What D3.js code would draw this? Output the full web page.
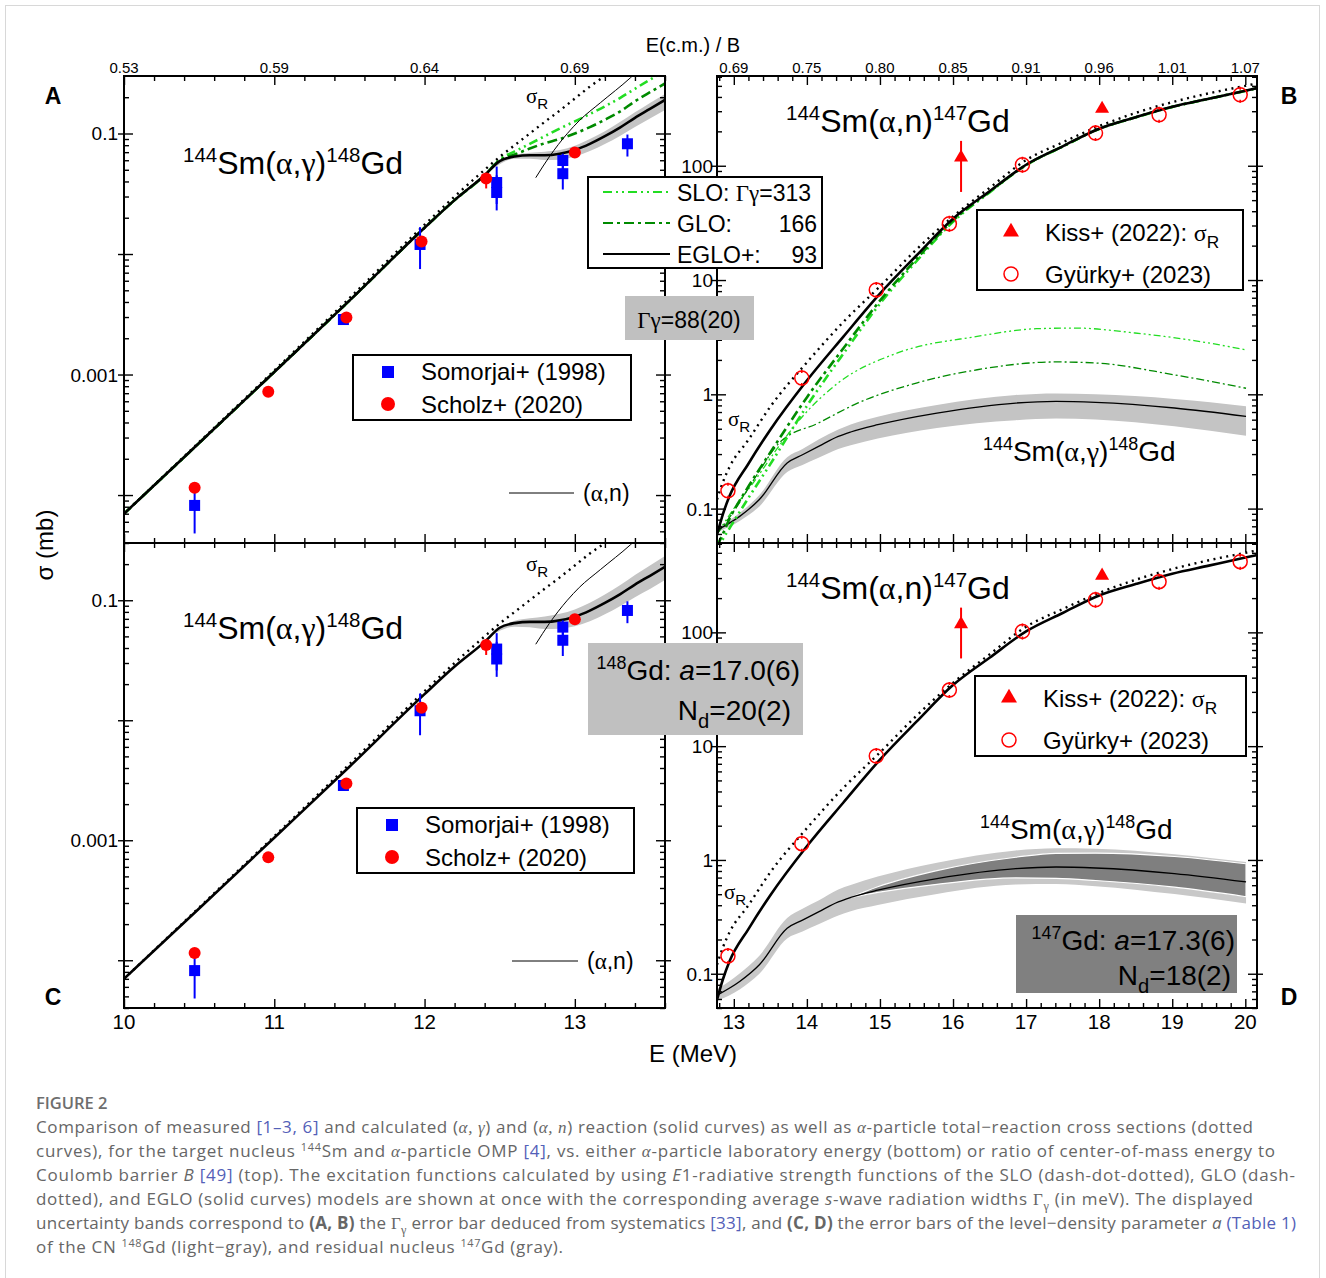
<!DOCTYPE html>
<html>
<head>
<meta charset="utf-8">
<script src="https://cdn.jsdelivr.net/npm/d3@7"></script>
<style>
  body { margin: 0; background: #fff; }
</style>
</head>
<body>
<svg id="fig" width="1326" height="1278" font-family='"Liberation Sans", Arial, sans-serif'></svg>
<script>
// ---------- data ----------
// (alpha,gamma) excitation functions, lab energy (panels A, C)
var eGam = [10.0, 10.5, 11.0, 11.5, 12.0, 12.2, 12.4, 12.5, 12.6, 12.7, 12.8, 12.9, 13.0, 13.1, 13.2, 13.3, 13.4, 13.5, 13.6];
var gamEGLO = [7.0e-5, 2.7e-4, 1.05e-3, 4.1e-3, 0.0165, 0.028, 0.045, 0.059, 0.0645, 0.066, 0.066, 0.068, 0.073, 0.082, 0.095, 0.112, 0.135, 0.16, 0.19];
var gamSLO = [7.0e-5, 2.7e-4, 1.05e-3, 4.1e-3, 0.0165, 0.028, 0.045, 0.061, 0.071, 0.082, 0.095, 0.110, 0.126, 0.145, 0.168, 0.197, 0.235, 0.28, 0.33];
var gamGLO = [7.0e-5, 2.7e-4, 1.05e-3, 4.1e-3, 0.0165, 0.028, 0.045, 0.060, 0.067, 0.075, 0.083, 0.090, 0.100, 0.113, 0.130, 0.152, 0.185, 0.22, 0.26];
var sigRLow = [7.0e-5, 2.75e-4, 1.08e-3, 4.3e-3, 0.0175, 0.030, 0.050, 0.064, 0.080, 0.10, 0.125, 0.155, 0.195, 0.245, 0.30, 0.37, 0.45, 0.55, 0.66];

// uncertainty bands above 12.4 MeV
var eBand = [12.4, 12.5, 12.6, 12.7, 12.8, 12.9, 13.0, 13.1, 13.2, 13.3, 13.4, 13.5, 13.6];
var bandAhi = [0.045, 0.0577, 0.0660, 0.0691, 0.0707, 0.0729, 0.0790, 0.0899, 0.1042, 0.1243, 0.1498, 0.1795, 0.2132];
var bandAlo = [0.045, 0.0557, 0.0616, 0.0616, 0.0602, 0.0606, 0.0644, 0.0715, 0.0817, 0.0955, 0.1134, 0.1330, 0.1566];
var bandChi = [0.045, 0.0583, 0.0675, 0.0708, 0.0732, 0.0772, 0.0838, 0.0952, 0.1116, 0.1332, 0.1623, 0.1946, 0.2337];
var bandClo = [0.045, 0.0557, 0.0602, 0.0595, 0.0575, 0.0579, 0.0607, 0.0667, 0.0763, 0.0890, 0.1060, 0.1242, 0.1475];

// (alpha,n) piece drawn in panels A, C
var eAnLow = [12.74, 12.83, 12.95, 13.03, 13.17, 13.37, 13.45];
var anLow = [0.043, 0.064, 0.10, 0.128, 0.18, 0.29, 0.36];

// measured (alpha,gamma)
var somE = [10.47, 11.46, 11.97, 12.48, 12.48, 12.92, 12.92, 13.35];
var somS = [8.2e-5, 2.86e-3, 0.0120, 0.0392, 0.0324, 0.0597, 0.0464, 0.0822];
var somLo = [4.8e-5, 2.7e-3, 7.5e-3, 0.026, 0.023, 0.048, 0.0343, 0.0644];
var somHi = [1.15e-4, 3.0e-3, 0.0167, 0.0532, 0.045, 0.068, 0.058, 0.098];
var schE = [10.47, 10.96, 11.48, 11.98, 12.41, 13.0];
var schS = [1.15e-4, 7.2e-4, 2.97e-3, 0.0127, 0.0424, 0.0695];
var schLo = [1.1e-4, 6.9e-4, 2.85e-3, 0.0122, 0.035, 0.067];
var schHi = [1.2e-4, 7.5e-4, 3.1e-3, 0.0132, 0.046, 0.072];

// (alpha,n) and sigma_R, panels B, D
var eN = [12.77, 12.85, 12.94, 13.2, 13.5, 14.0, 14.5, 15.0, 15.5, 16.0, 16.5, 17.0, 17.5, 18.0, 18.5, 19.0, 19.5, 20.0, 20.16];
var nEGLO = [0.059, 0.089, 0.128, 0.247, 0.49, 1.32, 3.2, 7.6, 16.4, 34.4, 59.8, 102, 148, 211, 266, 328, 386, 454, 478];
var nSLO = [0.042, 0.054, 0.067, 0.124, 0.245, 0.79, 2.27, 6.2, 14.6, 32.4, 58.4, 101, 147, 210, 265, 327, 385, 452, 476];
var nGLO = [0.047, 0.060, 0.081, 0.156, 0.31, 0.94, 2.53, 6.6, 15.3, 33.2, 59.2, 101.5, 147.5, 210.5, 265.5, 327.5, 385.5, 453, 477];
var sigRHigh = [0.12, 0.17, 0.23, 0.40, 0.78, 1.9, 4.3, 8.8, 18.5, 36, 64, 112, 160, 222, 290, 360, 430, 500, 525];

// (alpha,gamma) at higher energies, panels B, D
var eG = [12.78, 13.08, 13.35, 13.73, 13.94, 14.16, 14.43, 14.6, 14.97, 15.78, 16.86, 17.41, 17.95, 19.03, 20.01];
var gEGLO = [0.0653, 0.0855, 0.120, 0.251, 0.296, 0.350, 0.428, 0.468, 0.542, 0.686, 0.839, 0.867, 0.850, 0.759, 0.641];
var bandBhi = [0.0684, 0.0917, 0.1315, 0.2816, 0.332, 0.402, 0.491, 0.543, 0.637, 0.806, 0.986, 1.019, 0.999, 0.912, 0.788];
var bandBlo = [0.0624, 0.0780, 0.1045, 0.2088, 0.2406, 0.278, 0.332, 0.359, 0.411, 0.508, 0.594, 0.614, 0.602, 0.525, 0.433];
var lightDhi = [0.0733, 0.1005, 0.1442, 0.309, 0.373, 0.441, 0.551, 0.603, 0.714, 0.947, 1.212, 1.268, 1.257, 1.123, 0.959];
var lightDlo = [0.0582, 0.0728, 0.0998, 0.204, 0.235, 0.272, 0.325, 0.355, 0.402, 0.503, 0.608, 0.614, 0.588, 0.501, 0.414];
var eDark = [14.6, 14.97, 15.78, 16.86, 17.41, 17.95, 19.03, 20.01];
var darkDhi = [0.468, 0.581, 0.806, 1.056, 1.143, 1.147, 1.072, 0.926];
var darkDlo = [0.468, 0.518, 0.611, 0.695, 0.689, 0.660, 0.576, 0.475];
var eGS = [12.77, 13.0, 13.3, 13.6, 13.94, 14.43, 15.24, 16.33, 17.14, 17.68, 18.49, 19.3, 20.01];
var gSLO = [0.06, 0.10, 0.18, 0.34, 0.64, 1.26, 2.30, 3.21, 3.75, 3.80, 3.44, 2.95, 2.45];
var eGG = [12.77, 13.0, 13.3, 13.62, 14.16, 14.70, 15.51, 16.33, 17.41, 17.95, 19.03, 20.01];
var gGLO = [0.06, 0.095, 0.19, 0.375, 0.561, 0.84, 1.26, 1.64, 1.92, 1.88, 1.48, 1.13];

// measured (alpha,n)
var gyE = [12.92, 13.93, 14.95, 15.95, 16.95, 17.95, 18.82, 19.93];
var gyS = [0.143, 1.39, 8.2, 31.1, 102, 193, 279, 418];
var kiE = [16.11, 18.04];
var kiS = [118, 315];
var kiLo = [59, 315];
var kiHi = [165, 315];

// tick labels
var topLabelsA = ['0.53', '0.59', '0.64', '0.69'];
var topLabelsB = ['0.69', '0.75', '0.80', '0.85', '0.91', '0.96', '1.01', '1.07'];
var yLabelsA = [0.1, 0.001];
var yLabelsB = [100, 10, 1, 0.1];

// ---------- drawing ----------
var serif = '"Liberation Serif", "Times New Roman", serif';
var fig = d3.select('#fig');
var defs = fig.append('defs');

fig.append('rect').attr('x', 5.5).attr('y', 5.5).attr('width', 1314).attr('height', 1300)
    .attr('fill', 'none').attr('stroke', '#d8d8d8');

var xLab = d3.scaleLinear().domain([10, 13.6]).range([124, 665]);
var xHi = d3.scaleLinear().domain([12.77, 20.16]).range([717, 1257]);
var yA = d3.scaleLog().domain([4e-5, 0.3]).range([543, 76]);
var yC = d3.scaleLog().domain([4e-5, 0.3]).range([1008, 543]);
var yB = d3.scaleLog().domain([0.05, 610]).range([543, 76]);
var yD = d3.scaleLog().domain([0.05, 610]).range([1008, 543]);

var LIME = '#22dd22', DKGREEN = '#008a00';

// text with super/subscripts; flags: sup, sub, g (serif), i (italic), gi, gsub, b (bold), l (link)
function rich(t, segs, size) {
    var shift = 0;
    segs.forEach(function (s) {
        var k = s[1] || '';
        var sp = t.append('tspan').text(s[0]);
        var target = 0;
        if (k === 'sup') { target = -size * 0.38; sp.attr('font-size', size * 0.64); }
        if (k === 'sub' || k === 'gsub') { target = size * 0.28; sp.attr('font-size', size * 0.72); }
        if (target - shift !== 0) sp.attr('dy', target - shift);
        shift = target;
        if (k === 'g' || k === 'gi' || k === 'gsub') sp.attr('font-family', serif);
        if (k === 'i' || k === 'gi') sp.attr('font-style', 'italic');
        if (k === 'b') sp.attr('font-weight', 'bold');
        if (k === 'l') sp.attr('fill', '#5360b8');
    });
    return t;
}

function label(g, x, y, size, segs, anchor) {
    var t = g.append('text').attr('x', x).attr('y', y).attr('font-size', size)
        .attr('text-anchor', anchor || 'start');
    return rich(t, segs, size);
}

function curve(g, x, y, xs, ys, color, width, dash) {
    var p = g.append('path').datum(d3.zip(xs, ys))
        .attr('d', d3.line().x(function (d) { return x(d[0]); }).y(function (d) { return y(d[1]); })
            .curve(d3.curveMonotoneX))
        .attr('fill', 'none').attr('stroke', color).attr('stroke-width', width);
    if (dash) p.attr('stroke-dasharray', dash);
    return p;
}

function band(g, x, y, xs, lo, hi, fill) {
    return g.append('path').datum(d3.zip(xs, lo, hi))
        .attr('d', d3.area().x(function (d) { return x(d[0]); })
            .y0(function (d) { return y(d[1]); }).y1(function (d) { return y(d[2]); })
            .curve(d3.curveMonotoneX))
        .attr('fill', fill);
}

function tickSet(g, gen, vals, size) {
    g.call(gen.tickValues(vals).tickSize(size).tickFormat(''))
        .call(function (a) { a.select('.domain').remove(); })
        .selectAll('line').attr('stroke', '#000').attr('stroke-width', 1.4);
}

function axes(x, y) {
    var xa = x.range()[0], xb = x.range()[1], yb = y.range()[0], ya = y.range()[1];
    var d0 = x.domain()[0], d1 = x.domain()[1];
    var maj = d3.range(Math.ceil(d0), Math.floor(d1) + 1);
    var mnr = d3.range(Math.ceil(d0 * 5), Math.floor(d1 * 5) + 1).map(function (k) { return k / 5; })
        .filter(function (v) { return Math.abs(v - Math.round(v)) > 1e-6; });
    var l0 = y.domain()[0], l1 = y.domain()[1];
    var yMaj = [], yMin = [];
    for (var k = Math.floor(Math.log10(l0)); k <= Math.ceil(Math.log10(l1)); k++) {
        for (var m = 1; m < 10; m++) {
            var v = m * Math.pow(10, k);
            if (v < l0 || v > l1) continue;
            (m === 1 ? yMaj : yMin).push(v);
        }
    }
    var g = fig.append('g');
    var gb = g.append('g').attr('transform', 'translate(0,' + yb + ')');
    tickSet(gb.append('g'), d3.axisBottom(x), maj, -9);
    tickSet(gb.append('g'), d3.axisBottom(x), mnr, -5);
    var gt = g.append('g').attr('transform', 'translate(0,' + ya + ')');
    tickSet(gt.append('g'), d3.axisTop(x), maj, -9);
    tickSet(gt.append('g'), d3.axisTop(x), mnr, -5);
    var gl = g.append('g').attr('transform', 'translate(' + xa + ',0)');
    tickSet(gl.append('g'), d3.axisLeft(y), yMaj, -9);
    tickSet(gl.append('g'), d3.axisLeft(y), yMaj, 6);
    tickSet(gl.append('g'), d3.axisLeft(y), yMin, -5);
    var gr = g.append('g').attr('transform', 'translate(' + xb + ',0)');
    tickSet(gr.append('g'), d3.axisRight(y), yMaj, -9);
    tickSet(gr.append('g'), d3.axisRight(y), yMaj, 6);
    tickSet(gr.append('g'), d3.axisRight(y), yMin, -5);
    g.append('rect').attr('x', xa).attr('y', ya).attr('width', xb - xa).attr('height', yb - ya)
        .attr('fill', 'none').attr('stroke', '#000').attr('stroke-width', 2);
}

function panel(id, x, y) {
    defs.append('clipPath').attr('id', 'clip' + id).append('rect')
        .attr('x', x.range()[0]).attr('y', y.range()[1])
        .attr('width', x.range()[1] - x.range()[0]).attr('height', y.range()[0] - y.range()[1]);
    return fig.append('g').attr('clip-path', 'url(#clip' + id + ')');
}

function errorBars(g, x, y, xs, lo, hi, color, w) {
    g.selectAll(null).data(d3.zip(xs, lo, hi)).join('line')
        .attr('x1', function (d) { return x(d[0]); }).attr('x2', function (d) { return x(d[0]); })
        .attr('y1', function (d) { return y(d[1]); }).attr('y2', function (d) { return y(d[2]); })
        .attr('stroke', color).attr('stroke-width', w);
}

function gammaData(g, x, y) {
    errorBars(g, x, y, somE, somLo, somHi, '#0000ff', 2);
    g.selectAll(null).data(d3.zip(somE, somS)).join('rect')
        .attr('x', function (d) { return x(d[0]) - 5.5; }).attr('y', function (d) { return y(d[1]) - 5.5; })
        .attr('width', 11).attr('height', 11).attr('fill', '#0000ff');
    errorBars(g, x, y, schE, schLo, schHi, '#ff0000', 2);
    g.selectAll(null).data(d3.zip(schE, schS)).join('circle')
        .attr('cx', function (d) { return x(d[0]); }).attr('cy', function (d) { return y(d[1]); })
        .attr('r', 6).attr('fill', '#ff0000');
}

function nData(g, x, y) {
    errorBars(g, x, y, kiE, kiLo, kiHi, '#ff0000', 2);
    g.selectAll(null).data(d3.zip(kiE, kiS)).join('path')
        .attr('transform', function (d) { return 'translate(' + x(d[0]) + ',' + y(d[1]) + ')'; })
        .attr('d', d3.symbol(d3.symbolTriangle, 85)).attr('fill', '#ff0000');
    var gy = g.selectAll(null).data(d3.zip(gyE, gyS)).join('g')
        .attr('transform', function (d) { return 'translate(' + x(d[0]) + ',' + y(d[1]) + ')'; });
    gy.append('line').attr('y1', -8).attr('y2', 8).attr('stroke', '#ff0000').attr('stroke-width', 1.6)
        .attr('stroke-dasharray', '3,10,3');
    gy.append('circle').attr('r', 7).attr('fill', 'none').attr('stroke', '#ff0000').attr('stroke-width', 1.5);
}

// ----- panel A -----
var pA = panel('A', xLab, yA);
band(pA, xLab, yA, eBand, bandAlo, bandAhi, '#c4c4c4');
curve(pA, xLab, yA, eGam, gamSLO, LIME, 2.6, '9,4,2,4,2,4');
curve(pA, xLab, yA, eGam, gamGLO, DKGREEN, 2.6, '10,4,3,4');
curve(pA, xLab, yA, eGam, sigRLow, '#000', 2.4, '2,4.5');
curve(pA, xLab, yA, eAnLow, anLow, '#000', 1);
curve(pA, xLab, yA, eGam, gamEGLO, '#000', 2.6);
gammaData(fig.append('g'), xLab, yA);

// ----- panel C -----
var pC = panel('C', xLab, yC);
band(pC, xLab, yC, eBand, bandClo, bandChi, '#c4c4c4');
curve(pC, xLab, yC, eGam, sigRLow, '#000', 2.4, '2,4.5');
curve(pC, xLab, yC, eAnLow, anLow, '#000', 1);
curve(pC, xLab, yC, eGam, gamEGLO, '#000', 2.6);
gammaData(fig.append('g'), xLab, yC);

// ----- panel B -----
var pB = panel('B', xHi, yB);
band(pB, xHi, yB, eG, bandBlo, bandBhi, '#c4c4c4');
curve(pB, xHi, yB, eGS, gSLO, LIME, 1.3, '7,3,2,3,2,3');
curve(pB, xHi, yB, eGG, gGLO, DKGREEN, 1.3, '8,3,2,3');
curve(pB, xHi, yB, eG, gEGLO, '#000', 1.3);
curve(pB, xHi, yB, eN, nSLO, LIME, 2.6, '9,4,2,4,2,4');
curve(pB, xHi, yB, eN, nGLO, DKGREEN, 2.6, '10,4,3,4');
curve(pB, xHi, yB, eN, sigRHigh, '#000', 2.4, '2,4.5');
curve(pB, xHi, yB, eN, nEGLO, '#000', 2.6);
nData(fig.append('g'), xHi, yB);

// ----- panel D -----
var pD = panel('D', xHi, yD);
band(pD, xHi, yD, eG, lightDlo, lightDhi, '#c8c8c8');
band(pD, xHi, yD, eDark, darkDlo, darkDhi, '#7f7f7f').attr('stroke', '#fff').attr('stroke-width', 1.2);
curve(pD, xHi, yD, eG, gEGLO, '#000', 1.3);
curve(pD, xHi, yD, eN, sigRHigh, '#000', 2.4, '2,4.5');
curve(pD, xHi, yD, eN, nEGLO, '#000', 2.6);
nData(fig.append('g'), xHi, yD);

// ----- frames and tick labels -----
axes(xLab, yA); axes(xLab, yC); axes(xHi, yB); axes(xHi, yD);

var lab = fig.append('g');
yLabelsA.forEach(function (v) {
    [yA, yC].forEach(function (y) {
        lab.append('text').attr('x', 118).attr('y', y(v) + 7).attr('font-size', 19)
            .attr('text-anchor', 'end').text(v === 0.1 ? '0.1' : '0.001');
    });
});
yLabelsB.forEach(function (v) {
    [yB, yD].forEach(function (y) {
        lab.append('text').attr('x', 713).attr('y', y(v) + 7).attr('font-size', 19)
            .attr('text-anchor', 'end').text(String(v));
    });
});
topLabelsA.forEach(function (s, i) {
    lab.append('text').attr('x', xLab(10 + i)).attr('y', 73).attr('font-size', 15)
        .attr('text-anchor', 'middle').text(s);
    lab.append('text').attr('x', xLab(10 + i)).attr('y', 1029).attr('font-size', 20.5)
        .attr('text-anchor', 'middle').text(String(10 + i));
});
topLabelsB.forEach(function (s, i) {
    lab.append('text').attr('x', xHi(13 + i)).attr('y', 73).attr('font-size', 15)
        .attr('text-anchor', 'middle').text(s);
    lab.append('text').attr('x', xHi(13 + i)).attr('y', 1029).attr('font-size', 20.5)
        .attr('text-anchor', 'middle').text(String(13 + i));
});

// axis titles and panel letters
lab.append('text').attr('x', 693).attr('y', 52).attr('font-size', 20).attr('text-anchor', 'middle').text('E(c.m.) / B');
lab.append('text').attr('x', 693).attr('y', 1062).attr('font-size', 24).attr('text-anchor', 'middle').text('E (MeV)');
label(lab, 0, 0, 24, [['σ'], [' (mb)']], 'middle').attr('transform', 'translate(53,545) rotate(-90)');
[['A', 53, 104], ['B', 1289, 104], ['C', 53, 1005], ['D', 1289, 1005]].forEach(function (p) {
    lab.append('text').attr('x', p[1]).attr('y', p[2]).attr('font-size', 23).attr('font-weight', 'bold')
        .attr('text-anchor', 'middle').text(p[0]);
});

// reaction labels
var gamSegs = [['144', 'sup'], ['Sm('], ['α', 'g'], [','], ['γ', 'g'], [')'], ['148', 'sup'], ['Gd']];
var nSegs = [['144', 'sup'], ['Sm('], ['α', 'g'], [',n)'], ['147', 'sup'], ['Gd']];
label(lab, 183, 174, 32, gamSegs);
label(lab, 183, 639, 32, gamSegs);
label(lab, 786, 132, 32, nSegs);
label(lab, 786, 599, 32, nSegs);
label(lab, 983, 461, 28, gamSegs);
label(lab, 980, 839, 28, gamSegs);

// sigma_R labels
[[526, 103], [526, 571], [728, 426], [724, 899]].forEach(function (p) {
    label(lab, p[0], p[1], 21, [['σ', 'g'], ['R', 'sub']]);
});

// (alpha,n) line keys
[[509, 574, 493], [512, 578, 961]].forEach(function (p) {
    lab.append('line').attr('x1', p[0]).attr('x2', p[1]).attr('y1', p[2]).attr('y2', p[2])
        .attr('stroke', '#000').attr('stroke-width', 1);
    label(lab, p[1] + 9, p[2] + 8, 23, [['('], ['α', 'g'], [',n)']]);
});

// legends for measured (alpha,gamma)
[[353, 355, 278], [357, 808, 277]].forEach(function (p) {
    var g = fig.append('g');
    g.append('rect').attr('x', p[0]).attr('y', p[1]).attr('width', p[2]).attr('height', 65)
        .attr('fill', '#fff').attr('stroke', '#000').attr('stroke-width', 2);
    g.append('rect').attr('x', p[0] + 29).attr('y', p[1] + 11).attr('width', 12).attr('height', 12).attr('fill', '#0000ff');
    g.append('circle').attr('cx', p[0] + 35).attr('cy', p[1] + 49).attr('r', 7).attr('fill', '#ff0000');
    g.append('text').attr('x', p[0] + 68).attr('y', p[1] + 25).attr('font-size', 24).text('Somorjai+ (1998)');
    g.append('text').attr('x', p[0] + 68).attr('y', p[1] + 58).attr('font-size', 24).text('Scholz+ (2020)');
});

// legends for measured (alpha,n)
[[977, 210, 266], [975, 676, 271]].forEach(function (p) {
    var g = fig.append('g');
    g.append('rect').attr('x', p[0]).attr('y', p[1]).attr('width', p[2]).attr('height', 80)
        .attr('fill', '#fff').attr('stroke', '#000').attr('stroke-width', 2);
    g.append('path').attr('transform', 'translate(' + (p[0] + 34) + ',' + (p[1] + 22) + ')')
        .attr('d', d3.symbol(d3.symbolTriangle, 110)).attr('fill', '#ff0000');
    g.append('circle').attr('cx', p[0] + 34).attr('cy', p[1] + 64).attr('r', 7)
        .attr('fill', 'none').attr('stroke', '#ff0000').attr('stroke-width', 1.5);
    label(g, p[0] + 68, p[1] + 31, 24, [['Kiss+ (2022): '], ['σ', 'g'], ['R', 'sub']]);
    label(g, p[0] + 68, p[1] + 73, 24, [['Gyürky+ (2023)']]);
});

// model legend
var gm = fig.append('g');
gm.append('rect').attr('x', 588).attr('y', 177).attr('width', 234).attr('height', 91)
    .attr('fill', '#fff').attr('stroke', '#000').attr('stroke-width', 2);
[[192, LIME, '9,4,2,4,2,4'], [223, DKGREEN, '10,4,3,4'], [254, '#000', null]].forEach(function (r) {
    var l = gm.append('line').attr('x1', 603).attr('x2', 670).attr('y1', r[0]).attr('y2', r[0])
        .attr('stroke', r[1]).attr('stroke-width', 2);
    if (r[2]) l.attr('stroke-dasharray', r[2]);
});
label(gm, 677, 201, 23, [['SLO: '], ['Γγ', 'g'], ['=313']]);
label(gm, 677, 232, 23, [['GLO:']]);
label(gm, 817, 232, 23, [['166']], 'end');
label(gm, 677, 263, 23, [['EGLO+:']]);
label(gm, 817, 263, 23, [['93']], 'end');

// gray parameter boxes
fig.append('rect').attr('x', 625).attr('y', 296).attr('width', 129).attr('height', 44).attr('fill', '#c0c0c0');
label(fig, 689, 328, 23, [['Γγ', 'g'], ['=88(20)']], 'middle');
fig.append('rect').attr('x', 588).attr('y', 643).attr('width', 215).attr('height', 92).attr('fill', '#c0c0c0');
label(fig, 800, 680, 28, [['148', 'sup'], ['Gd: '], ['a', 'i'], ['=17.0(6)']], 'end');
label(fig, 791, 720, 28, [['N'], ['d', 'sub'], ['=20(2)']], 'end');
fig.append('rect').attr('x', 1016).attr('y', 915).attr('width', 221).attr('height', 78).attr('fill', '#808080');
label(fig, 1235, 950, 28, [['147', 'sup'], ['Gd: '], ['a', 'i'], ['=17.3(6)']], 'end');
label(fig, 1231, 985, 28, [['N'], ['d', 'sub'], ['=18(2)']], 'end');

// ----- caption -----
var capFont = '"Open Sans", sans-serif';
var cap = fig.append('g').attr('fill', '#666').attr('font-family', capFont);
cap.append('text').attr('x', 36).attr('y', 1109).attr('font-size', 16.5).attr('font-weight', 600)
    .attr('fill', '#6e6e6e').text('FIGURE 2');
var capLines = [
    [[['Comparison of measured '], ['[1–3, 6]', 'l'], [' and calculated ('], ['α, γ', 'gi'], [') and ('], ['α, n', 'gi'],
      [') reaction (solid curves) as well as '], ['α', 'gi'], ['-particle total−reaction cross sections (dotted']], 1253],
    [[['curves), for the target nucleus '], ['144', 'sup'], ['Sm and '], ['α', 'gi'], ['-particle OMP '], ['[4]', 'l'],
      [', vs. either '], ['α', 'gi'], ['-particle laboratory energy (bottom) or ratio of center-of-mass energy to']], 1275],
    [[['Coulomb barrier '], ['B', 'i'], [' '], ['[49]', 'l'], [' (top). The excitation functions calculated by using '],
      ['E', 'i'], ['1-radiative strength functions of the SLO (dash-dot-dotted), GLO (dash-']], 1295],
    [[['dotted), and EGLO (solid curves) models are shown at once with the corresponding average '], ['s', 'i'],
      ['-wave radiation widths '], ['Γ', 'g'], ['γ', 'gsub'], [' (in meV). The displayed']], 1253],
    [[['uncertainty bands correspond to '], ['(A, B)', 'b'], [' the '], ['Γ', 'g'], ['γ', 'gsub'], [' error bar deduced from systematics '],
      ['[33]', 'l'], [', and '], ['(C, D)', 'b'], [' the error bars of the level−density parameter '], ['a', 'i'], [' '], ['(Table 1)', 'l']], 1296],
    [[['of the CN '], ['148', 'sup'], ['Gd (light−gray), and residual nucleus '], ['147', 'sup'], ['Gd (gray).']], 563]
];
capLines.forEach(function (ln, i) {
    var t = cap.append('text').attr('x', 36).attr('y', 1133 + i * 24).attr('font-size', 17)
        .attr('textLength', ln[1] - 36).attr('lengthAdjust', 'spacing');
    rich(t, ln[0], 17);
});
</script>
</body>
</html>
